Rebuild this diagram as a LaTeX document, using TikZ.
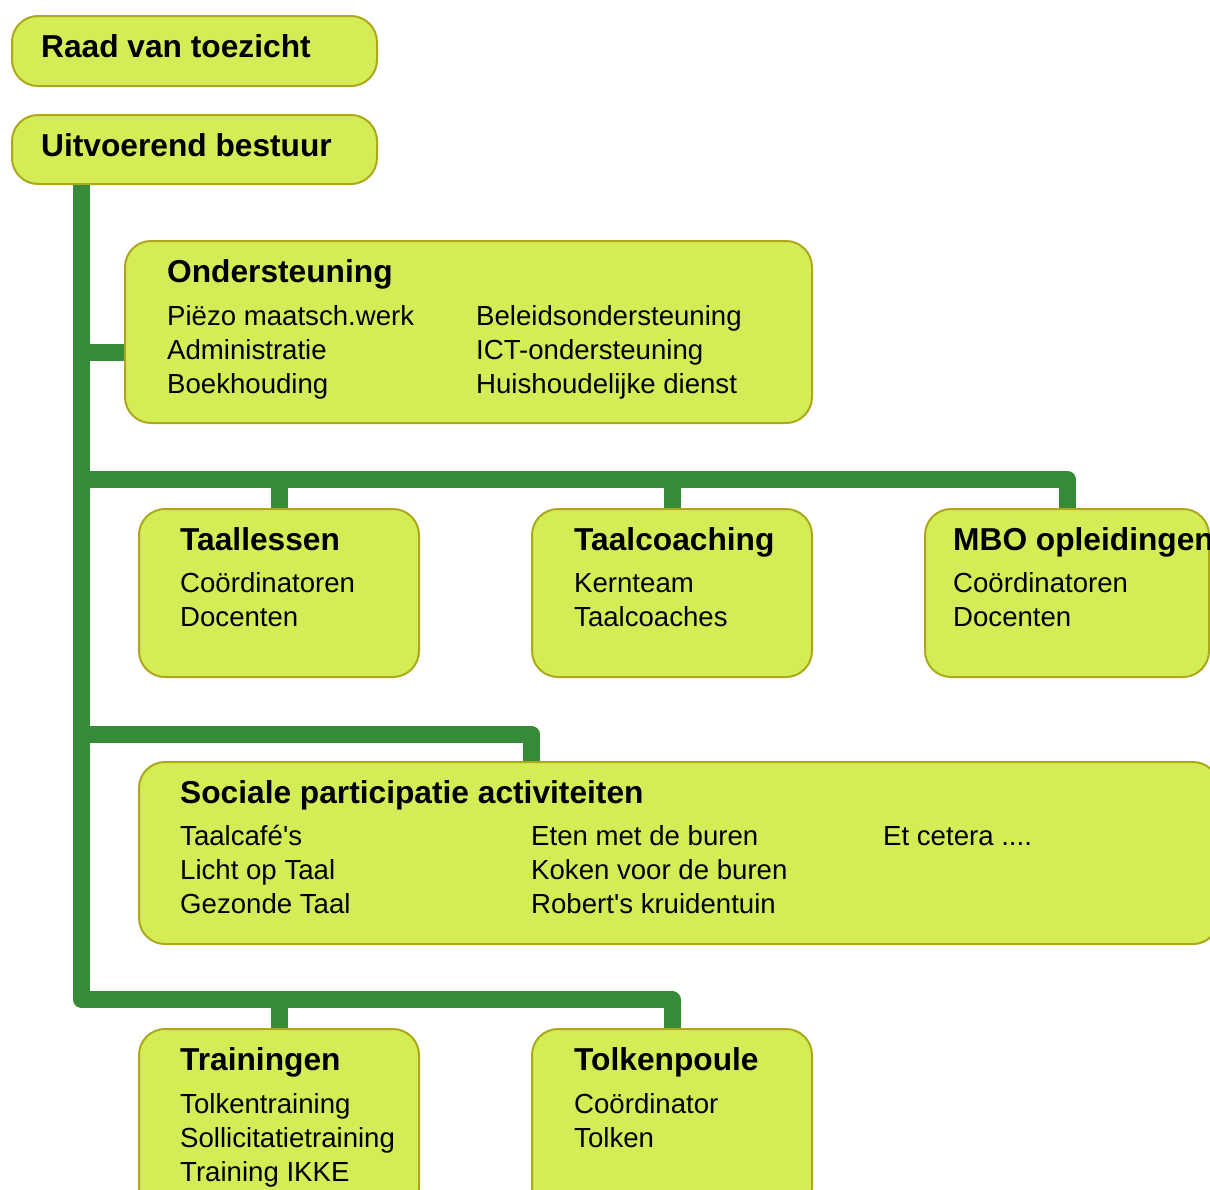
\documentclass[tikz,border=0pt]{standalone}
\usepackage{fontspec}
\setmainfont{Liberation Sans}
\definecolor{boxfill}{HTML}{D4EC56}
\definecolor{boxline}{HTML}{ACA81C}
\definecolor{linkgreen}{HTML}{378A37}
\newcommand{\headfont}{\fontsize{31.7}{34}\selectfont\bfseries}
\newcommand{\itemfont}{\fontsize{27.6}{34.3}\selectfont}
\newcommand{\boxlines}[1]{\begin{tabular}[t]{@{}l@{}}#1\end{tabular}}
\tikzset{
  box/.style={draw=boxline, fill=boxfill, line width=2pt, rounded corners=26pt,
    anchor=north west, inner sep=0pt},
  head/.style={anchor=base west, inner sep=0pt, font=\headfont},
  item/.style={anchor=base west, inner sep=0pt, font=\itemfont},
  link/.style={draw=linkgreen, line width=17pt, line join=round}
}
\begin{document}
\begin{tikzpicture}[x=1pt, y=-1pt]
\useasboundingbox (0,0) rectangle (1210,1189);
\clip (0,0) rectangle (1210,1189);

% boards
\node[box, minimum width=365, minimum height=70] (toezicht) at (11,15) {};
\node[head] (toezicht-t) at (41,57) {Raad van toezicht};
\node[box, minimum width=365, minimum height=69] (bestuur) at (11,114) {};
\node[head] (bestuur-t) at (41,156) {Uitvoerend bestuur};

% support
\node[box, minimum width=687, minimum height=182] (steun) at (124,240) {};
\node[head] (steun-t) at (167,282) {Ondersteuning};
\node[item] (steun-a) at (167,325) {\boxlines{Piëzo maatsch.werk\\Administratie\\Boekhouding}};
\node[item] (steun-b) at (476,325) {\boxlines{Beleidsondersteuning\\ICT-ondersteuning\\Huishoudelijke dienst}};

% row 1
\node[box, minimum width=280, minimum height=168] (lessen) at (138,508) {};
\node[head] (lessen-t) at (180,550) {Taallessen};
\node[item] (lessen-a) at (180,592) {\boxlines{Coördinatoren\\Docenten}};
\node[box, minimum width=280, minimum height=168] (coaching) at (531,508) {};
\node[head] (coaching-t) at (574,550) {Taalcoaching};
\node[item] (coaching-a) at (574,592) {\boxlines{Kernteam\\Taalcoaches}};
\node[box, minimum width=284, minimum height=168] (mbo) at (924,508) {};
\node[head] (mbo-t) at (953,550) {MBO opleidingen};
\node[item] (mbo-a) at (953,592) {\boxlines{Coördinatoren\\Docenten}};

% row 2
\node[box, minimum width=1080, minimum height=182] (sociaal) at (138,761) {};
\node[head] (sociaal-t) at (180,803) {Sociale participatie activiteiten};
\node[item] (sociaal-a) at (180,845) {\boxlines{Taalcafé\textquotesingle s\\Licht op Taal\\Gezonde Taal}};
\node[item] (sociaal-b) at (531,845) {\boxlines{Eten met de buren\\Koken voor de buren\\Robert\textquotesingle s kruidentuin}};
\node[item] (sociaal-c) at (883,845) {Et cetera ....};

% row 3
\node[box, minimum width=280, minimum height=185] (training) at (138,1028) {};
\node[head] (training-t) at (180,1070) {Trainingen};
\node[item] (training-a) at (180,1113) {\boxlines{Tolkentraining\\Sollicitatietraining\\Training IKKE}};
\node[box, minimum width=280, minimum height=185] (tolken) at (531,1028) {};
\node[head] (tolken-t) at (574,1070) {Tolkenpoule};
\node[item] (tolken-a) at (574,1113) {\boxlines{Coördinator\\Tolken}};

% connectors
\coordinate (spine) at (81.5,0);
\coordinate (bar1) at (81.5,479);
\coordinate (bar2) at (81.5,734);
\coordinate (bar3) at (81.5,999.5);
\coordinate (steunin) at ([yshift=-20pt]steun.west);
\draw[link] (bestuur.south -| spine) -- (bar3) -| (tolken.north);
\draw[link] (training.north) -- (training.north |- bar3);
\draw[link] (steunin) -- (spine |- steunin);
\draw[link] (bar1) -| (mbo.north);
\draw[link] (lessen.north) -- (lessen.north |- bar1);
\draw[link] (coaching.north) -- (coaching.north |- bar1);
\draw[link] (bar2) -| ([xshift=393pt]sociaal.north west);

\end{tikzpicture}
\end{document}
